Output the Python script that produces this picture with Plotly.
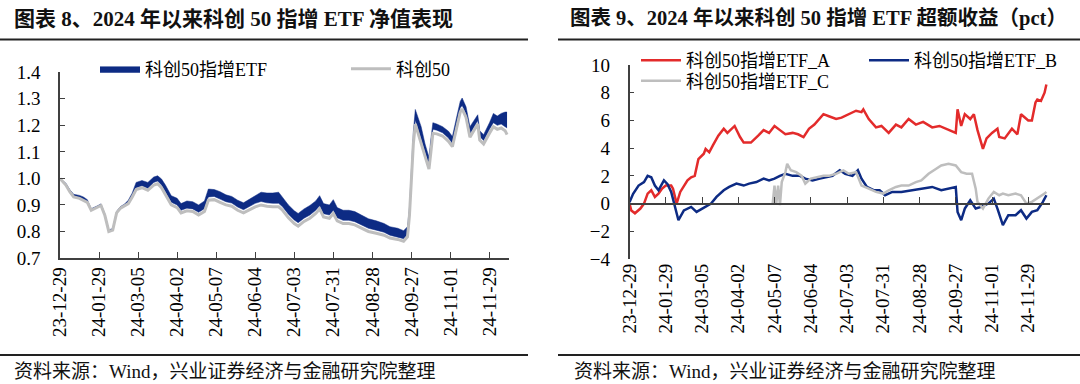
import plotly.graph_objects as go

# ---------------- data: left chart (net value) ----------------
tick_labels = ["23-12-29", "24-01-29", "24-03-05", "24-04-02", "24-05-07", "24-06-04",
               "24-07-03", "24-07-31", "24-08-28", "24-09-27", "24-11-01", "24-11-29"]
tick_days = [0, 20, 40, 60, 80, 100, 120, 140, 160, 180, 200, 220]

days_nav = [0, 3, 5, 7, 10, 12, 14, 16, 19, 21, 23, 25, 27, 29, 31, 33, 35, 37, 39, 42, 45, 48, 50,
            52, 54, 57, 60, 62, 65, 68, 71, 74, 76, 79, 82, 85, 88, 91, 94, 97, 100, 103, 106, 109,
            112, 114, 117, 120, 122, 125, 128, 131, 133, 135, 138, 140, 142, 145, 148, 151, 155, 158,
            162, 166, 169, 173, 176, 178, 179, 180, 181, 182, 183, 185, 187, 189, 190, 191, 193, 196,
            199, 201, 203, 205, 206, 208, 210, 212, 214, 215, 217, 220, 222, 224, 226, 228, 229]
kc50 = [1.000, 0.975, 0.950, 0.930, 0.925, 0.918, 0.910, 0.880, 0.890, 0.898, 0.860, 0.800, 0.805,
        0.870, 0.888, 0.895, 0.905, 0.930, 0.958, 0.965, 0.955, 0.975, 0.980, 0.965, 0.940, 0.900,
        0.890, 0.870, 0.878, 0.875, 0.862, 0.875, 0.918, 0.920, 0.910, 0.900, 0.895, 0.880, 0.870,
        0.882, 0.893, 0.900, 0.895, 0.893, 0.893, 0.880, 0.852, 0.830, 0.820, 0.838, 0.850, 0.868,
        0.885, 0.855, 0.850, 0.868, 0.840, 0.830, 0.830, 0.825, 0.812, 0.800, 0.793, 0.786, 0.775,
        0.770, 0.763, 0.780, 0.860, 1.000, 1.130, 1.205, 1.180, 1.140, 1.080, 1.035, 1.100, 1.170,
        1.168, 1.160, 1.140, 1.120, 1.185, 1.250, 1.262, 1.230, 1.155, 1.180, 1.205, 1.145, 1.130,
        1.170, 1.195, 1.185, 1.190, 1.180, 1.165]
etf_low = [1.000, 0.977, 0.953, 0.933, 0.928, 0.921, 0.912, 0.882, 0.892, 0.900, 0.862, 0.802, 0.807,
           0.872, 0.890, 0.898, 0.910, 0.935, 0.965, 0.972, 0.963, 0.985, 0.990, 0.975, 0.950, 0.910,
           0.900, 0.880, 0.888, 0.885, 0.872, 0.886, 0.930, 0.932, 0.922, 0.912, 0.907, 0.892, 0.882,
           0.895, 0.906, 0.913, 0.908, 0.906, 0.906, 0.893, 0.865, 0.843, 0.833, 0.850, 0.862, 0.880,
           0.897, 0.867, 0.862, 0.880, 0.852, 0.842, 0.842, 0.837, 0.824, 0.812, 0.805, 0.797, 0.786,
           0.780, 0.773, 0.790, 0.870, 1.010, 1.145, 1.220, 1.195, 1.155, 1.095, 1.048, 1.115, 1.185,
           1.182, 1.172, 1.152, 1.132, 1.198, 1.265, 1.275, 1.243, 1.168, 1.193, 1.218, 1.158, 1.143,
           1.185, 1.210, 1.200, 1.205, 1.195, 1.190]
etf_high = [1.000, 0.982, 0.958, 0.940, 0.936, 0.930, 0.920, 0.886, 0.896, 0.904, 0.866, 0.806, 0.811,
            0.876, 0.894, 0.903, 0.918, 0.945, 0.985, 0.992, 0.985, 1.005, 1.010, 0.998, 0.975, 0.935,
            0.925, 0.905, 0.915, 0.912, 0.900, 0.915, 0.960, 0.958, 0.950, 0.938, 0.932, 0.918, 0.908,
            0.922, 0.935, 0.948, 0.945, 0.945, 0.948, 0.930, 0.900, 0.878, 0.868, 0.885, 0.898, 0.915,
            0.935, 0.905, 0.900, 0.920, 0.890, 0.880, 0.880, 0.875, 0.860, 0.848, 0.840, 0.830, 0.818,
            0.812, 0.803, 0.818, 0.890, 1.030, 1.175, 1.260, 1.240, 1.195, 1.130, 1.080, 1.150, 1.210,
            1.205, 1.195, 1.178, 1.158, 1.225, 1.290, 1.303, 1.270, 1.195, 1.220, 1.240, 1.180, 1.165,
            1.210, 1.245, 1.235, 1.245, 1.250, 1.250]

# ---------------- data: right chart (excess return, pct) ----------------
days_a = [0, 1, 3, 6, 8, 10, 12, 14, 16, 18, 20, 23, 24, 26, 28, 30, 32, 34, 36, 38, 41, 42, 44, 46,
          49, 52, 54, 58, 61, 63, 67, 71, 74, 77, 80, 83, 86, 90, 93, 96, 99, 102, 105, 107, 110, 114,
          117, 121, 125, 128, 129, 132, 136, 139, 143, 147, 150, 154, 158, 162, 167, 171, 176, 180,
          181, 183, 185, 188, 190, 192, 195, 197, 200, 203, 204, 207, 211, 214, 216, 220, 222, 224,
          225, 227, 229, 230]
etf_a = [0.0, -0.5, -0.7, -0.36, 0.0, 0.72, 0.96, 0.48, 0.72, 1.08, 1.3, 1.3, 1.08, 0.0, 0.84, 1.3,
         1.67, 1.9, 2.0, 3.2, 3.6, 3.95, 3.7, 4.2, 4.9, 5.4, 5.1, 5.6, 4.8, 4.4, 4.4, 4.9, 5.3, 5.1,
         5.6, 5.3, 5.0, 5.1, 5.0, 4.8, 5.4, 5.7, 6.2, 6.45, 6.3, 6.1, 6.2, 6.45, 6.7, 6.6, 6.8, 6.1,
         5.5, 5.6, 5.1, 5.7, 5.5, 6.1, 5.7, 5.9, 5.5, 5.6, 5.3, 5.1, 6.8, 5.6, 6.45, 6.1, 6.45, 5.3,
         3.95, 4.7, 5.1, 5.4, 4.8, 4.7, 5.4, 5.0, 6.45, 6.0, 6.0, 7.3, 7.5, 7.4, 8.0, 8.6]

days_b = [0, 2, 5, 8, 10, 12, 14, 16, 19, 21, 23, 25, 27, 30, 32, 34, 37, 40, 42, 45, 48, 52, 55, 59,
          63, 66, 70, 74, 77, 80, 83, 86, 90, 94, 97, 101, 105, 108, 112, 116, 119, 123, 126, 128, 131,
          135, 138, 141, 145, 150, 156, 161, 167, 172, 177, 180, 181, 183, 185, 188, 191, 194, 198,
          201, 203, 206, 209, 213, 216, 219, 222, 225, 228, 230]
etf_b = [0.1, 0.7, 1.3, 1.55, 2.0, 1.9, 1.3, 0.96, 1.67, 1.4, 0.84, -0.12, -1.2, -0.5, -0.36, -0.24,
         -0.6, -0.36, -0.24, 0.0, 0.48, 0.96, 1.2, 1.44, 1.3, 1.44, 1.55, 1.8, 1.67, 1.8, 2.0, 2.15,
         2.0, 2.0, 1.8, 1.67, 1.8, 1.9, 2.0, 2.4, 2.15, 2.0, 2.4, 1.8, 1.2, 0.96, 0.96, 0.6, 0.84, 0.84,
         0.96, 1.08, 1.2, 0.96, 1.08, 1.2, -0.6, -1.2, -0.36, 0.24, -0.36, -0.24, 0.0, 0.36, -0.36,
         -1.55, -0.84, -0.84, -0.48, -1.08, -0.6, -0.48, 0.1, 0.6]

days_c = [79, 80, 81, 82, 83, 84, 86, 87, 89, 92, 95, 97, 100, 103, 107, 110, 114, 118, 121, 125,
          128, 132, 136, 140, 143, 147, 150, 154, 158, 161, 165, 169, 172, 176, 180, 183, 186, 189,
          191, 192, 195, 198, 201, 204, 206, 209, 213, 216, 219, 222, 225, 229, 230]
etf_c = [0.0, 1.3, 0.0, 1.3, -0.12, 1.55, 2.27, 2.87, 2.4, 2.27, 2.0, 1.44, 1.8, 1.9, 2.0, 2.0, 2.15,
         2.4, 2.15, 2.27, 1.3, 1.08, 0.84, 0.72, 0.96, 1.2, 1.3, 1.3, 1.55, 1.67, 2.15, 2.5, 2.75,
         2.87, 2.75, 2.27, 2.15, 2.15, 1.08, 0.12, -0.36, 0.36, 0.84, 0.6, 0.72, 0.6, 0.72, 0.6, 0.0,
         0.12, 0.36, 0.72, 0.84]

# ---------------- styling ----------------
NAVY = "#0D2B84"
GRAY = "#BEBEBE"
RED = "#E32B2B"
AXIS = "#404040"
FONT = "Times New Roman, Liberation Serif, Noto Sans CJK SC, serif"
W, H = 1080, 384


def px_x(p):
    return p / W


def px_y(p):
    return 1 - p / H


fig = go.Figure()

# left: ETF band
fig.add_trace(go.Scatter(x=days_nav, y=etf_low, mode="lines", line=dict(color=NAVY, width=0.5),
                         showlegend=False, hoverinfo="skip", xaxis="x", yaxis="y"))
fig.add_trace(go.Scatter(x=days_nav, y=etf_high, mode="lines", fill="tonexty", fillcolor=NAVY,
                         line=dict(color=NAVY, width=0.5), name="科创50指增ETF",
                         legend="legend", xaxis="x", yaxis="y"))
fig.add_trace(go.Scatter(x=days_nav, y=kc50, mode="lines", line=dict(color=GRAY, width=3),
                         name="科创50", legend="legend2", xaxis="x", yaxis="y"))

# right: excess return lines
fig.add_trace(go.Scatter(x=days_a, y=etf_a, mode="lines", line=dict(color=RED, width=2.5),
                         name="科创50指增ETF_A", legend="legend3", xaxis="x2", yaxis="y2"))
fig.add_trace(go.Scatter(x=days_b, y=etf_b, mode="lines", line=dict(color=NAVY, width=2.5),
                         name="科创50指增ETF_B", legend="legend4", xaxis="x2", yaxis="y2"))
fig.add_trace(go.Scatter(x=days_c, y=etf_c, mode="lines", line=dict(color=GRAY, width=2.5),
                         name="科创50指增ETF_C", legend="legend5", xaxis="x2", yaxis="y2"))
# dummy trace to activate the zero-line axis
fig.add_trace(go.Scatter(x=[None], y=[None], xaxis="x3", yaxis="y2", showlegend=False,
                         hoverinfo="skip"))

# domains (pixel-based layout)
xL = [px_x(60), px_x(509)]
yL = [px_y(258), px_y(72.3)]
xR = [px_x(629.5), px_x(1050)]
yR = [px_y(259), px_y(65)]
rangeL = [0, 230]
rangeR = [0, 232]
y2_range = [-4, 10]
zero_pos = yR[0] + (0 - y2_range[0]) / (y2_range[1] - y2_range[0]) * (yR[1] - yR[0])

tickfont = dict(family=FONT, size=19, color="#000000")
legfont = dict(family=FONT, size=18, color="#000000")


def leg(x, y):
    return dict(orientation="h", x=px_x(x), y=px_y(y), xanchor="left", yanchor="middle",
                font=legfont, itemwidth=40, bgcolor="rgba(0,0,0,0)", traceorder="normal")


fig.update_layout(
    width=W, height=H, margin=dict(l=0, r=0, t=0, b=0, autoexpand=False),
    paper_bgcolor="white", plot_bgcolor="white",
    font=dict(family=FONT, size=18, color="#000000"),
    xaxis=dict(domain=xL, range=rangeL, tickmode="array", tickvals=tick_days, ticktext=tick_labels,
               tickangle=-90, ticks="inside", ticklen=6, tickcolor=AXIS, showline=True,
               linecolor=AXIS, linewidth=1.5, showgrid=False, zeroline=False, tickfont=tickfont,
               anchor="y"),
    yaxis=dict(domain=yL, range=[0.7, 1.4], dtick=0.1, tickformat=".1f", ticks="inside",
               ticklen=5, tickcolor=AXIS, showline=True, linecolor=AXIS, linewidth=1.5,
               showgrid=False, zeroline=False, tickfont=tickfont, anchor="x", ticklabelstandoff=14),
    xaxis2=dict(domain=xR, range=rangeR, tickmode="array", tickvals=tick_days, ticktext=tick_labels,
                tickangle=-90, ticks="", showline=False, showgrid=False, zeroline=False,
                tickfont=tickfont, anchor="y2"),
    xaxis3=dict(domain=xR, range=rangeR, overlaying="x2", anchor="free", position=zero_pos,
                tickmode="array", tickvals=tick_days, showticklabels=False, ticks="inside",
                ticklen=6, tickcolor=AXIS, showline=True, linecolor=AXIS, linewidth=1.5,
                showgrid=False, zeroline=False),
    yaxis2=dict(domain=yR, range=y2_range, dtick=2, ticks="inside", ticklen=5, tickcolor=AXIS,
                showline=True, linecolor=AXIS, linewidth=1.5, showgrid=False, zeroline=False,
                tickfont=tickfont, anchor="x2", ticklabelstandoff=14),
    legend=leg(95, 69),
    legend2=leg(346, 69),
    legend3=leg(636, 60.5),
    legend4=leg(864, 60.5),
    legend5=leg(636, 81),
    showlegend=True,
)

# titles
fig.add_annotation(text="<b>图表 8、2024 年以来科创 50 指增 ETF 净值表现</b>", xref="paper", yref="paper",
                   x=px_x(12), y=px_y(19), xanchor="left", yanchor="middle", showarrow=False,
                   font=dict(family=FONT, size=21, color="#111111"))
fig.add_annotation(text="<b>图表 9、2024 年以来科创 50 指增 ETF 超额收益（pct）</b>", xref="paper",
                   yref="paper", x=px_x(569), y=px_y(19), xanchor="left", yanchor="middle",
                   showarrow=False, borderpad=0, font=dict(family=FONT, size=20.5, color="#111111"))
for x0 in (12, 572):
    fig.add_annotation(text="资料来源：Wind，兴业证券经济与金融研究院整理", xref="paper", yref="paper",
                       x=px_x(x0), y=px_y(371), xanchor="left", yanchor="middle", showarrow=False,
                       font=dict(family=FONT, size=19, color="#111111"))

# separator rules
for (a, b) in ((0, 528), (558, 1080)):
    for yy in (39.5, 355):
        fig.add_shape(type="line", xref="paper", yref="paper", x0=px_x(a), x1=px_x(b),
                      y0=px_y(yy), y1=px_y(yy), line=dict(color="#222222", width=2))

fig.write_html("out.html", config={"displayModeBar": False},
               post_script="document.body.style.margin='0';document.body.style.overflow='hidden';")
